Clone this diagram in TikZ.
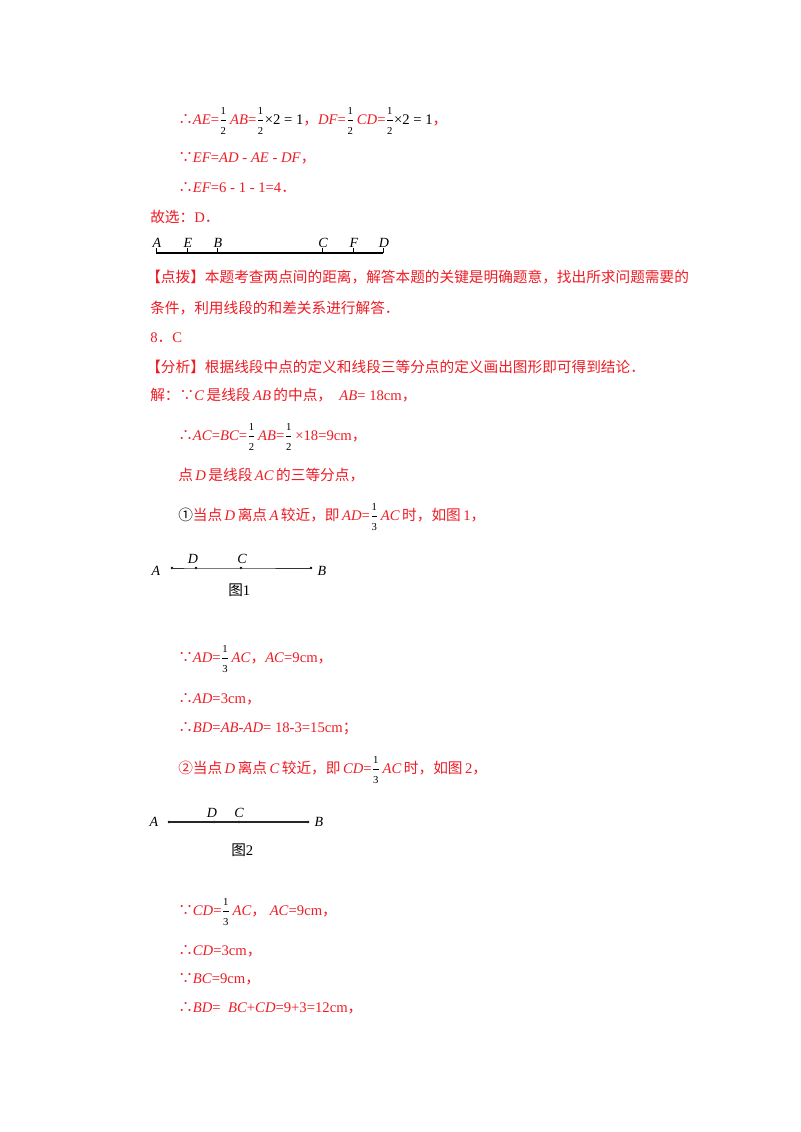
\documentclass[tikz,border=0pt]{standalone}
\usepackage{amsmath}
\usepackage{fontspec}
\setmainfont{Liberation Serif}
\newfontfamily\cjk{Noto Sans CJK SC}
\definecolor{txtred}{HTML}{EE1C25}
\newcommand\fr[2]{{\color{black}$\genfrac{}{}{0.4pt}{0}{\mbox{\footnotesize #1}}{\mbox{\footnotesize #2}}$}}
\newcommand\zh[1]{{\cjk #1}}
\newcommand\vv[1]{\textit{#1}}
\begin{document}
\begin{tikzpicture}[x=0.75pt,y=-0.75pt,
  txt/.style={anchor=base west,inner sep=0,text=txtred,font=\fontsize{11}{13}\selectfont},
  lbl/.style={anchor=base,inner sep=0,font=\fontsize{10.5}{12}\selectfont\itshape},
  pt/.style={circle,fill=black,inner sep=0,minimum size=2pt}]
\useasboundingbox[fill=white] (0,0) rectangle (800,1132);
% top
\node[txt] (l1) at (178,124) {\zh{∴}\vv{AE}=\fr12\,\vv{AB}=\fr12{\color{black}×2 = 1}\zh{，}\vv{DF}=\fr12\,\vv{CD}=\fr12{\color{black}×2 = 1}\zh{，}};
\node[txt] (l2) at (178,162) {\zh{∵}\vv{EF}=\vv{AD} - \vv{AE} - \vv{DF}\zh{，}};
\node[txt] (l3) at (178,192) {\zh{∴}\vv{EF}=6 - 1 - 1=4\zh{．}};
\node[txt] (l4) at (150,222) {\zh{故选：}D\zh{．}};
% diagram 0
\coordinate (pA) at (156,253); \coordinate (pE) at (187,253); \coordinate (pB) at (217,253);
\coordinate (pC) at (322,253); \coordinate (pF) at (353,253); \coordinate (pD) at (383,253);
\draw[line width=0.8pt] (pA) -- (pD);
\foreach \p/\t in {pA/A,pE/E,pB/B,pC/C,pF/F,pD/D}{
  \draw[line width=0.6pt] (\p) -- ++(0,-5);
  \node[lbl] at ([shift={(1,-6)}]\p) {\t};}
\node[txt] (t1) at (146,282) {\zh{【点拨】本题考查两点间的距离，解答本题的关键是明确题意，找出所求问题需要的}};
\node[txt] (t2) at (150,313) {\zh{条件，利用线段的和差关系进行解答．}};
\node[txt] (t3) at (150,342) {8\zh{．}C};
\node[txt] (t4) at (146,372) {\zh{【分析】根据线段中点的定义和线段三等分点的定义画出图形即可得到结论．}};
\node[txt] (t5) at (150,400) {\zh{解：∵}\vv{C}\,\zh{是线段}\,\vv{AB}\,\zh{的中点，}\ \ \vv{AB}= 18cm\zh{，}};
\node[txt] (t6) at (178,440) {\zh{∴}\vv{AC}=\vv{BC}=\fr12\,\vv{AB}=\fr12\,×18=9cm\zh{，}};
\node[txt] (t7) at (178,480) {\zh{点}\,\vv{D}\,\zh{是线段}\,\vv{AC}\,\zh{的三等分点，}};
\node[txt] (t8) at (178,520) {{\color{black}\zh{①}}\zh{当点}\,\vv{D}\,\zh{离点}\,\vv{A}\,\zh{较近，即}\,\vv{AD}=\fr13\,\vv{AC}\,\zh{时，如图}\,1\zh{，}};
% fig 1
\node[pt] (a1) at (172,568) {}; \node[pt] (d1) at (196,568) {};
\node[pt] (c1) at (241,568) {}; \node[pt] (b1) at (311,568) {};
\draw[line width=0.6pt,black!80] (a1.center) -- (d1.center) -- (c1.center) -- (b1.center);
\node[lbl] (la1) at (156,575) {A}; \node[lbl] (lb1) at (322,575) {B};
\node[lbl] (ld1) at (193,563) {D}; \node[lbl] (lc1) at (242,563) {C};
\node[anchor=base west,inner sep=0,font=\fontsize{11}{13}\selectfont] (f1) at (228,595) {\zh{图}1};
\node[txt] (u1) at (178,662) {\zh{∵}\vv{AD}=\fr13\,\vv{AC}\zh{，}\vv{AC}=9cm\zh{，}};
\node[txt] (u2) at (178,703) {\zh{∴}\vv{AD}=3cm\zh{，}};
\node[txt] (u3) at (178,732) {\zh{∴}\vv{BD}=\vv{AB}-\vv{AD}= 18-3=15cm\zh{；}};
\node[txt] (u4) at (178,773) {\zh{②当点}\,\vv{D}\,\zh{离点}\,\vv{C}\,\zh{较近，即}\,\vv{CD}=\fr13\,\vv{AC}\,\zh{时，如图}\,2\zh{，}};
% fig 2
\node[pt] (a2) at (169,822) {}; \node[pt] (d2) at (214,822) {};
\node[pt] (c2) at (239,822) {}; \node[pt] (b2) at (308,822) {};
\draw[line width=0.8pt,black!85] (a2.center) -- (d2.center) -- (c2.center) -- (b2.center);
\node[lbl] (la2) at (154,826) {A}; \node[lbl] (lb2) at (319,826) {B};
\node[lbl] (ld2) at (212,817) {D}; \node[lbl] (lc2) at (239,817) {C};
\node[anchor=base west,inner sep=0,font=\fontsize{11}{13}\selectfont] (f2) at (231,855) {\zh{图}2};
\node[txt] (v1) at (178,915) {\zh{∵}\vv{CD}=\fr13\,\vv{AC}\zh{，}\ \vv{AC}=9cm\zh{，}};
\node[txt] (v2) at (178,955) {\zh{∴}\vv{CD}=3cm\zh{，}};
\node[txt] (v3) at (178,983) {\zh{∵}\vv{BC}=9cm\zh{，}};
\node[txt] (v4) at (178,1012) {\zh{∴}\vv{BD}=\ \ \vv{BC}+\vv{CD}=9+3=12cm\zh{，}};
\end{tikzpicture}
\end{document}
